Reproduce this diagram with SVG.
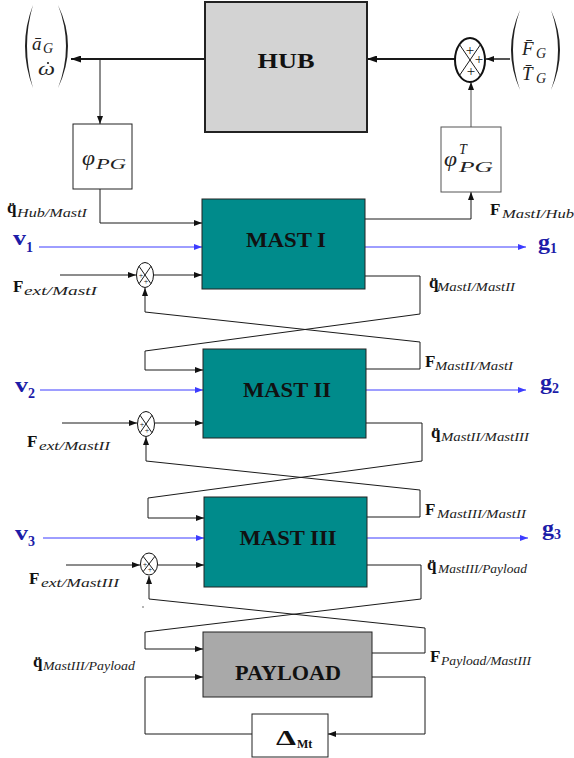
<svg xmlns="http://www.w3.org/2000/svg" width="574" height="758" viewBox="0 0 574 758">
<style>
.ln{fill:none;stroke:#1a1a1a;stroke-width:1}
.thk{stroke-width:2}
.gr{stroke:#555}
.bl{stroke:#3c3cff}
.bx{font-family:"Liberation Serif",serif;font-weight:bold;font-size:20px;fill:#111;text-anchor:middle}
.it{font-family:"Liberation Serif",serif;font-style:italic;fill:#222}
.bf{font-family:"Liberation Serif",serif;font-weight:bold;fill:#111}
.nv{fill:#1c1ca8}
.pl{font-family:"Liberation Serif",serif;fill:#111;text-anchor:middle}
.F{font-size:17px}
.s{font-size:12px}
</style>
<defs>
<marker id="a" viewBox="0 0 8 6" refX="8" refY="3" markerWidth="8" markerHeight="6" orient="auto" markerUnits="userSpaceOnUse"><path d="M0,0L8,3L0,6z" fill="#111"/></marker>
<marker id="ab" viewBox="0 0 8 6" refX="8" refY="3" markerWidth="8" markerHeight="6" orient="auto" markerUnits="userSpaceOnUse"><path d="M0,0L8,3L0,6z" fill="#3c3cff"/></marker>
<marker id="at" viewBox="0 0 10 7" refX="10" refY="3.5" markerWidth="10" markerHeight="7" orient="auto" markerUnits="userSpaceOnUse"><path d="M0,0L10,3.5L0,7z" fill="#111"/></marker>
</defs>

<g id="connectors">
<path class="ln thk" d="M205,59H71" marker-end="url(#at)"/>
<path class="ln" d="M100,59V124" marker-end="url(#a)"/>
<path class="ln thk" d="M455,59H367" marker-end="url(#at)"/>
<path class="ln thk gr" d="M510,59H486" marker-end="url(#a)"/>
<path class="ln gr" d="M471,127V82" marker-end="url(#a)"/>
<path class="ln" d="M100,189V223H202" marker-end="url(#a)"/>
<path class="ln" d="M365,219H471V192" marker-end="url(#a)"/>
<path class="ln bl" d="M39,247H202" marker-end="url(#ab)"/>
<path class="ln bl" d="M365,247H526" marker-end="url(#ab)"/>
<path class="ln" d="M60,275H136" marker-end="url(#a)"/>
<path class="ln" d="M154,275H202" marker-end="url(#a)"/>
<path class="ln" d="M365,276H420V314L145,351V370H203" marker-end="url(#a)"/>
<path class="ln" d="M366,369H420V342L145,312V288" marker-end="url(#a)"/>
<path class="ln bl" d="M40,390H203" marker-end="url(#ab)"/>
<path class="ln bl" d="M366,390H526" marker-end="url(#ab)"/>
<path class="ln" d="M62,423H137" marker-end="url(#a)"/>
<path class="ln" d="M155,423H203" marker-end="url(#a)"/>
<path class="ln" d="M366,423H422V461L148,498V518H204" marker-end="url(#a)"/>
<path class="ln" d="M367,517H420V490L146,461V437" marker-end="url(#a)"/>
<path class="ln bl" d="M43,538H204" marker-end="url(#ab)"/>
<path class="ln bl" d="M367,538H528" marker-end="url(#ab)"/>
<path class="ln" d="M66,565H140" marker-end="url(#a)"/>
<path class="ln" d="M158,565H204" marker-end="url(#a)"/>
<path class="ln" d="M367,565H421V599L145,632V649H203" marker-end="url(#a)"/>
<path class="ln" d="M372,653H425V628L149,599V576" marker-end="url(#a)"/>
<path class="ln" d="M372,677H425V734H328" marker-end="url(#a)"/>
<path class="ln" d="M252,734H145V677H203" marker-end="url(#a)"/>
<circle cx="143" cy="607" r="0.7" fill="#333"/>
</g>

<g id="hub">
<rect x="205" y="2" width="162" height="130" fill="#d3d3d3" stroke="#222" stroke-width="2"/>
<text class="bx" x="286" y="68" font-size="19" textLength="57" lengthAdjust="spacingAndGlyphs">HUB</text>
</g>

<g id="phiPG">
<rect x="73" y="124" width="59" height="65" fill="#fff" stroke="#222"/>
<text class="it" x="82" y="165" font-size="22" textLength="13" lengthAdjust="spacingAndGlyphs">φ</text>
<text class="it" x="96" y="169" font-size="15" textLength="30" lengthAdjust="spacingAndGlyphs">PG</text>
</g>

<g id="phiPGT">
<rect x="441" y="127" width="60" height="65" fill="#fff" stroke="#555"/>
<text class="it" x="444" y="166" font-size="22" textLength="13" lengthAdjust="spacingAndGlyphs">φ</text>
<text class="it" x="459" y="154" font-size="14">T</text>
<text class="it" x="459" y="172" font-size="15" textLength="34" lengthAdjust="spacingAndGlyphs">PG</text>
</g>

<g id="sum0">
<ellipse cx="470" cy="60" rx="15" ry="22" fill="#fff" stroke="#111" stroke-width="2"/>
<path class="ln" d="M459.4,44.4L480.6,75.6M480.6,44.4L459.4,75.6"/>
<text class="pl" x="470" y="55" font-size="15">+</text>
<text class="pl" x="479" y="64" font-size="15">+</text>
<text class="pl" x="471" y="76" font-size="15">+</text>
</g>

<g id="outVec">
<path d="M33,5Q17,46 33,88Q21,46 33,5Z" fill="#222"/>
<path d="M58,5Q78,46 58,88Q74,46 58,5Z" fill="#222"/>
<text class="it" x="32" y="50" font-size="19">ā</text>
<text class="it" x="43" y="53" font-size="14">G</text>
<text class="it" x="38" y="75" font-size="19" textLength="17" lengthAdjust="spacingAndGlyphs">ω</text>
<circle cx="48" cy="63" r="1.1" fill="#222"/>
</g>

<g id="inVec">
<path d="M520,10Q502,50 520,90Q506,50 520,10Z" fill="#222"/>
<path d="M551,10Q569,50 551,90Q565,50 551,10Z" fill="#222"/>
<text class="it" x="522" y="55" font-size="19">F̄</text>
<text class="it" x="536" y="58" font-size="14">G</text>
<text class="it" x="522" y="80" font-size="19">T̄</text>
<text class="it" x="536" y="83" font-size="14">G</text>
</g>

<g id="mast1">
<rect x="202" y="199" width="163" height="90" fill="#008b8b" stroke="#222"/>
<text class="bx" x="286" y="247" textLength="80" lengthAdjust="spacingAndGlyphs">MAST I</text>
</g>
<g id="sum1">
<ellipse cx="145" cy="275" rx="8.5" ry="12.5" fill="#fff" stroke="#111"/>
<path class="ln" d="M139,266.2L151,283.8M151,266.2L139,283.8"/>
<text class="pl" x="141" y="277.5" font-size="8">+</text>
<text class="pl" x="146" y="284" font-size="8">+</text>
</g>

<g id="mast2">
<rect x="203" y="349" width="163" height="89" fill="#008b8b" stroke="#222"/>
<text class="bx" x="287" y="397" textLength="88" lengthAdjust="spacingAndGlyphs">MAST II</text>
</g>
<g id="sum2">
<ellipse cx="146" cy="424" rx="8.5" ry="12.5" fill="#fff" stroke="#111"/>
<path class="ln" d="M140,415.2L152,432.8M152,415.2L140,432.8"/>
<text class="pl" x="142" y="426.5" font-size="8">+</text>
<text class="pl" x="147" y="433" font-size="8">+</text>
</g>

<g id="mast3">
<rect x="204" y="497" width="163" height="90" fill="#008b8b" stroke="#222"/>
<text class="bx" x="288" y="545" textLength="97" lengthAdjust="spacingAndGlyphs">MAST III</text>
</g>
<g id="sum3">
<ellipse cx="149" cy="564" rx="8.5" ry="11" fill="#fff" stroke="#111"/>
<path class="ln" d="M143,556.2L155,571.8M155,556.2L143,571.8"/>
<text class="pl" x="145" y="566.5" font-size="8">+</text>
<text class="pl" x="150" y="572" font-size="8">+</text>
</g>

<g id="payload">
<rect x="203" y="632" width="169" height="65" fill="#a9a9a9" stroke="#222"/>
<text class="bx" x="288" y="680" font-size="19" textLength="106" lengthAdjust="spacingAndGlyphs">PAYLOAD</text>
</g>

<g id="delta">
<rect x="252" y="714" width="76" height="43" fill="#fff" stroke="#222"/>
<text class="bf" x="276" y="745" font-size="20" textLength="20" lengthAdjust="spacingAndGlyphs">Δ</text>
<text class="bf" x="297" y="748" font-size="12">Mt</text>
</g>

<g id="labels">
<text class="bf F" x="7" y="213">q̈</text>
<text class="it s" x="17" y="217" textLength="70" lengthAdjust="spacingAndGlyphs">Hub/MastI</text>

<text class="bf F" x="13" y="292">F</text>
<text class="it s" x="24" y="295" textLength="73" lengthAdjust="spacingAndGlyphs">ext/MastI</text>

<text class="bf F" x="490" y="215">F</text>
<text class="it s" x="502" y="218" textLength="72" lengthAdjust="spacingAndGlyphs">MastI/Hub</text>

<text class="bf F" x="429" y="288">q̈</text>
<text class="it s" x="437" y="291" textLength="78" lengthAdjust="spacingAndGlyphs">MastI/MastII</text>

<text class="bf F" x="425" y="367">F</text>
<text class="it s" x="435" y="370" textLength="78" lengthAdjust="spacingAndGlyphs">MastII/MastI</text>

<text class="bf F" x="27" y="447">F</text>
<text class="it s" x="39" y="450" textLength="71" lengthAdjust="spacingAndGlyphs">ext/MastII</text>

<text class="bf F" x="431" y="438">q̈</text>
<text class="it s" x="441" y="441" textLength="88" lengthAdjust="spacingAndGlyphs">MastII/MastIII</text>

<text class="bf F" x="425" y="515">F</text>
<text class="it s" x="437" y="518" textLength="89" lengthAdjust="spacingAndGlyphs">MastIII/MastII</text>

<text class="bf F" x="427" y="570">q̈</text>
<text class="it s" x="438" y="573" textLength="89" lengthAdjust="spacingAndGlyphs">MastIII/Payload</text>

<text class="bf F" x="29" y="584">F</text>
<text class="it s" x="41" y="587" textLength="78" lengthAdjust="spacingAndGlyphs">ext/MastIII</text>

<text class="bf F" x="430" y="662">F</text>
<text class="it s" x="441" y="665" textLength="90" lengthAdjust="spacingAndGlyphs">Payload/MastIII</text>

<text class="bf F" x="33" y="667">q̈</text>
<text class="it s" x="43" y="670" textLength="92" lengthAdjust="spacingAndGlyphs">MastIII/Payload</text>

<text class="bf nv" x="13" y="245" font-size="22" textLength="13" lengthAdjust="spacingAndGlyphs">v</text>
<text class="bf nv" x="26" y="252" font-size="14">1</text>
<text class="bf nv" x="15" y="392" font-size="22" textLength="13" lengthAdjust="spacingAndGlyphs">v</text>
<text class="bf nv" x="28" y="398" font-size="14">2</text>
<text class="bf nv" x="15" y="540" font-size="22" textLength="13" lengthAdjust="spacingAndGlyphs">v</text>
<text class="bf nv" x="28" y="546" font-size="14">3</text>

<text class="bf nv" x="538" y="249" font-size="21" textLength="12" lengthAdjust="spacingAndGlyphs">g</text>
<text class="bf nv" x="550" y="253" font-size="14">1</text>
<text class="bf nv" x="540" y="389" font-size="21" textLength="12" lengthAdjust="spacingAndGlyphs">g</text>
<text class="bf nv" x="552" y="393" font-size="14">2</text>
<text class="bf nv" x="542" y="535" font-size="21" textLength="12" lengthAdjust="spacingAndGlyphs">g</text>
<text class="bf nv" x="554" y="539" font-size="14">3</text>
</g>
</svg>
